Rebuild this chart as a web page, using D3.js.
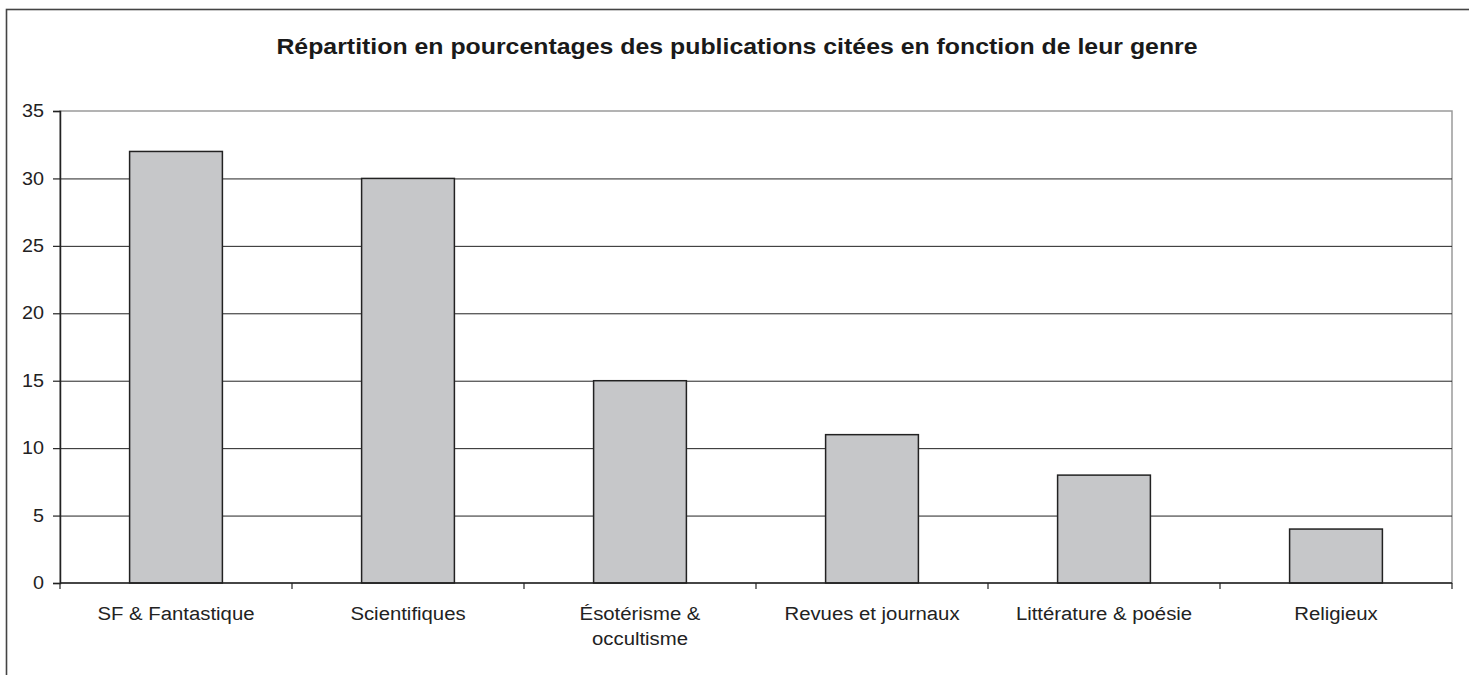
<!DOCTYPE html>
<html>
<head>
<meta charset="utf-8">
<script src="https://cdn.jsdelivr.net/npm/d3@7"></script>
<style>
  body { margin: 0; background: #fff; }
  svg { display: block; font-family: "Liberation Sans", Arial, sans-serif; }
</style>
</head>
<body>
<script>
    'use strict';

    var title = 'Répartition en pourcentages des publications citées en fonction de leur genre';
    var categories = ['SF & Fantastique', 'Scientifiques', 'Ésotérisme &\noccultisme',
                      'Revues et journaux', 'Littérature & poésie', 'Religieux'];
    var values = [32, 30, 15, 11, 8, 4];
    var y_ticks = [0, 5, 10, 15, 20, 25, 30, 35];

    var width = 1469, height = 675;
    var pad = {top: 111, left: 60, right: 17, bottom: 92};
    var panel_width = width - pad.left - pad.right;
    var panel_height = height - pad.top - pad.bottom;
    var stretch = 1.13;   // text in the source is a little wider than tall

    var svg = d3.select('body').append('svg')
        .attr('width', width)
        .attr('height', height);

    // outer frame of the chart (runs off right and bottom edges)
    svg.append('rect')
        .attr('x', 6.5).attr('y', 9.5)
        .attr('width', width).attr('height', height)
        .attr('fill', 'none')
        .attr('stroke', '#444')
        .attr('stroke-width', 1.6);

    svg.append('text')
        .attr('transform', 'translate(737,54) scale(' + stretch + ',1)')
        .attr('text-anchor', 'middle')
        .attr('font-size', 22)
        .attr('font-weight', 'bold')
        .attr('fill', '#1a1a1a')
        .text(title);

    var plot = svg.append('g')
        .attr('transform', 'translate(' + pad.left + ',' + pad.top + ')');

    var scale_x = d3.scaleBand()
        .domain(categories)
        .range([0, panel_width])
        .paddingInner(0.6)
        .paddingOuter(0.3);
    var scale_y = d3.scaleLinear()
        .domain([0, 35])
        .range([panel_height, 0]);

    // plot area border
    plot.append('rect')
        .attr('width', panel_width).attr('height', panel_height)
        .attr('fill', 'none')
        .attr('stroke', '#9a9a9a')
        .attr('stroke-width', 1.5);

    plot.selectAll('line.grid')
        .data(y_ticks.filter(function(d) { return d > 0 && d < 35; }))
        .enter().append('line')
        .attr('class', 'grid')
        .attr('x1', 0).attr('x2', panel_width)
        .attr('y1', function(d) { return scale_y(d) + 0.5; })
        .attr('y2', function(d) { return scale_y(d) + 0.5; })
        .attr('stroke', '#222')
        .attr('stroke-width', 1);

    plot.selectAll('rect.bar')
        .data(values)
        .enter().append('rect')
        .attr('class', 'bar')
        .attr('x', function(d, i) { return scale_x(categories[i]); })
        .attr('y', function(d) { return scale_y(d); })
        .attr('width', scale_x.bandwidth())
        .attr('height', function(d) { return panel_height - scale_y(d); })
        .attr('fill', '#c6c7c9')
        .attr('stroke', '#222')
        .attr('stroke-width', 1.5);

    var axis_y = plot.append('g')
        .call(d3.axisLeft(scale_y).tickValues(y_ticks).tickSize(7));
    axis_y.select('.domain').attr('stroke', '#222').attr('stroke-width', 1.5);
    axis_y.selectAll('.tick line').attr('stroke', '#222').attr('stroke-width', 1.2);
    axis_y.selectAll('.tick text')
        .attr('x', -16 / stretch)
        .attr('transform', 'scale(' + stretch + ',1)')
        .attr('font-size', 17.5)
        .attr('font-family', '"Liberation Sans", Arial, sans-serif')
        .attr('fill', '#222');

    // x baseline and category boundary ticks
    plot.append('line')
        .attr('x1', 0).attr('x2', panel_width)
        .attr('y1', panel_height).attr('y2', panel_height)
        .attr('stroke', '#222').attr('stroke-width', 1.5);
    plot.selectAll('line.xtick')
        .data(d3.range(categories.length + 1))
        .enter().append('line')
        .attr('class', 'xtick')
        .attr('x1', function(i) { return i * scale_x.step(); })
        .attr('x2', function(i) { return i * scale_x.step(); })
        .attr('y1', panel_height).attr('y2', panel_height + 6)
        .attr('stroke', '#222').attr('stroke-width', 1.2);

    var labels = plot.selectAll('text.cat')
        .data(categories)
        .enter().append('text')
        .attr('class', 'cat')
        .attr('text-anchor', 'middle')
        .attr('font-size', 18)
        .attr('fill', '#222')
        .attr('transform', function(d) {
            return 'translate(' + (scale_x(d) + scale_x.bandwidth() / 2) + ',' +
                (panel_height + 37) + ') scale(' + stretch + ',1)';
        });
    labels.selectAll('tspan')
        .data(function(d) { return d.split('\n'); })
        .enter().append('tspan')
        .attr('x', 0)
        .attr('dy', function(d, i) { return i === 0 ? 0 : 25; })
        .text(function(d) { return d; });
</script>
</body>
</html>
